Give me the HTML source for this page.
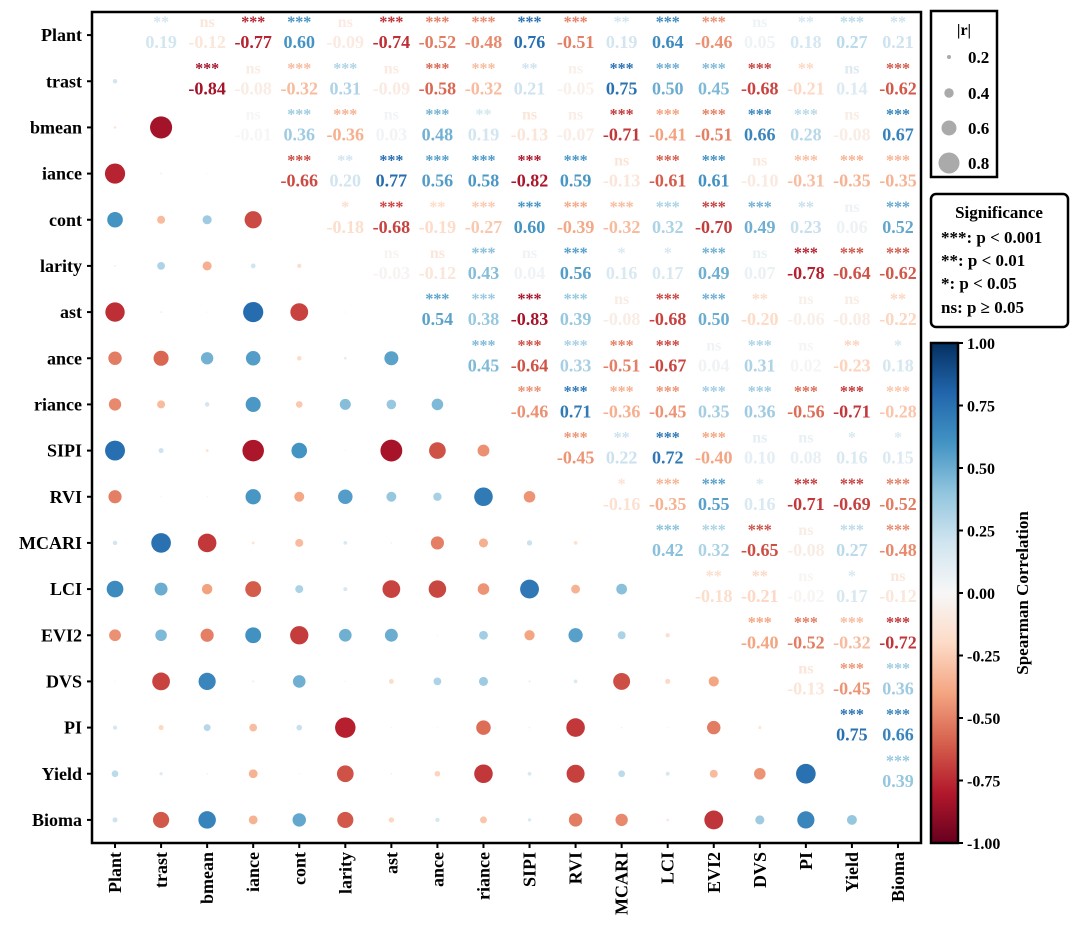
<!DOCTYPE html>
<html><head><meta charset="utf-8"><style>
body{margin:0;background:#fff;}
svg text{font-family:"Liberation Serif",serif;font-weight:bold;}
</style></head><body>
<svg id="chart" width="1080" height="934" xmlns="http://www.w3.org/2000/svg">
<defs><linearGradient id="cbg" x1="0" y1="1" x2="0" y2="0">
<stop offset="0" stop-color="#67001f"/><stop offset="0.1" stop-color="#b2182b"/><stop offset="0.2" stop-color="#d6604d"/><stop offset="0.3" stop-color="#f4a582"/><stop offset="0.4" stop-color="#fddbc7"/><stop offset="0.5" stop-color="#f7f7f7"/><stop offset="0.6" stop-color="#d1e5f0"/><stop offset="0.7" stop-color="#92c5de"/><stop offset="0.8" stop-color="#4393c3"/><stop offset="0.9" stop-color="#2166ac"/><stop offset="1" stop-color="#053061"/></linearGradient></defs>
<g id="cells"></g>
<rect x="92" y="12" width="829" height="831" fill="none" stroke="#000" stroke-width="2.5"/>
<g id="axes"></g>
<g>
<rect x="931" y="11" width="66" height="166" fill="#fff" stroke="#000" stroke-width="2.5"/>
<text x="964" y="35" font-size="16" text-anchor="middle">|r|</text>
<circle cx="949" cy="57" r="2" fill="#aaa"/><text x="968" y="63" font-size="17">0.2</text>
<circle cx="949" cy="93" r="4.7" fill="#aaa"/><text x="968" y="99" font-size="17">0.4</text>
<circle cx="949" cy="128" r="7.5" fill="#aaa"/><text x="968" y="134" font-size="17">0.6</text>
<circle cx="949" cy="163" r="10.5" fill="#aaa"/><text x="968" y="169" font-size="17">0.8</text>
</g>
<g>
<rect x="931" y="194" width="137" height="133" rx="5" fill="#fff" stroke="#000" stroke-width="2.5"/>
<text x="999" y="218" font-size="17" text-anchor="middle">Significance</text>
<text x="941" y="243" font-size="17">***: p &lt; 0.001</text>
<text x="941" y="266" font-size="17">**: p &lt; 0.01</text>
<text x="941" y="289" font-size="17">*: p &lt; 0.05</text>
<text x="941" y="313" font-size="17">ns: p ≥ 0.05</text>
</g>
<g>
<rect x="931" y="343" width="27" height="500" fill="url(#cbg)" stroke="#000" stroke-width="2.5"/>
<g id="cbticks"></g>
<text transform="translate(1028,593) rotate(-90)" font-size="17" text-anchor="middle">Spearman Correlation</text>
</g>
</svg>
<script>
const labels=["Plant","trast","bmean","iance","cont","larity","ast","ance","riance","SIPI","RVI","MCARI","LCI","EVI2","DVS","PI","Yield","Bioma"];
const upperVals=[
[0.19,-0.12,-0.77,0.60,-0.09,-0.74,-0.52,-0.48,0.76,-0.51,0.19,0.64,-0.46,0.05,0.18,0.27,0.21],
[-0.84,-0.08,-0.32,0.31,-0.09,-0.58,-0.32,0.21,-0.05,0.75,0.50,0.45,-0.68,-0.21,0.14,-0.62],
[-0.01,0.36,-0.36,0.03,0.48,0.19,-0.13,-0.07,-0.71,-0.41,-0.51,0.66,0.28,-0.08,0.67],
[-0.66,0.20,0.77,0.56,0.58,-0.82,0.59,-0.13,-0.61,0.61,-0.10,-0.31,-0.35,-0.35],
[-0.18,-0.68,-0.19,-0.27,0.60,-0.39,-0.32,0.32,-0.70,0.49,0.23,0.06,0.52],
[-0.03,-0.12,0.43,0.04,0.56,0.16,0.17,0.49,0.07,-0.78,-0.64,-0.62],
[0.54,0.38,-0.83,0.39,-0.08,-0.68,0.50,-0.20,-0.06,-0.08,-0.22],
[0.45,-0.64,0.33,-0.51,-0.67,0.04,0.31,0.02,-0.23,0.18],
[-0.46,0.71,-0.36,-0.45,0.35,0.36,-0.56,-0.71,-0.28],
[-0.45,0.22,0.72,-0.40,0.10,0.08,0.16,0.15],
[-0.16,-0.35,0.55,0.16,-0.71,-0.69,-0.52],
[0.42,0.32,-0.65,-0.08,0.27,-0.48],
[-0.18,-0.21,-0.02,0.17,-0.12],
[-0.40,-0.52,-0.32,-0.72],
[-0.13,-0.45,0.36],
[0.75,0.66],
[0.39]];
const upperSig=[
["**","ns","***","***","ns","***","***","***","***","***","**","***","***","ns","**","***","**"],
["***","ns","***","***","ns","***","***","**","ns","***","***","***","***","**","ns","***"],
["ns","***","***","ns","***","**","ns","ns","***","***","***","***","***","ns","***"],
["***","**","***","***","***","***","***","ns","***","***","ns","***","***","***"],
["*","***","**","***","***","***","***","***","***","***","**","ns","***"],
["ns","ns","***","ns","***","*","*","***","ns","***","***","***"],
["***","***","***","***","ns","***","***","**","ns","ns","**"],
["***","***","***","***","***","ns","***","ns","**","*"],
["***","***","***","***","***","***","***","***","***"],
["***","**","***","***","ns","ns","*","*"],
["*","***","***","*","***","***","***"],
["***","***","***","ns","***","***"],
["**","**","ns","*","ns"],
["***","***","***","***"],
["ns","***","***"],
["***","***"],
["***"]];
const tickVals=[1,0.75,0.5,0.25,0,-0.25,-0.5,-0.75,-1];
const NS="http://www.w3.org/2000/svg";
const X0=92,Y0=12,CW=829/18,CH=831/18;
const cx=j=>X0+CW*(j+0.5), cy=i=>Y0+CH*(i+0.5);
const stops=[[103,0,31],[178,24,43],[214,96,77],[244,165,130],[253,219,199],[247,247,247],[209,229,240],[146,197,222],[67,147,195],[33,102,172],[5,48,97]];
function cmap(v){let t=(Math.max(-1,Math.min(1,v))+1)*5;let k=Math.min(9,Math.floor(t));let f=t-k;
const a=stops[k],b=stops[k+1];return `rgb(${a.map((c,i)=>Math.round(c+(b[i]-c)*f)).join(',')})`;}
function el(tag,attrs,parent,txt){const e=document.createElementNS(NS,tag);for(const k in attrs)e.setAttribute(k,attrs[k]);if(txt!==undefined)e.textContent=txt;parent.appendChild(e);return e;}
const cells=document.getElementById('cells');
for(let i=0;i<labels.length;i++){
  for(let j=i+1;j<labels.length;j++){
    const v=upperVals[i][j-i-1], s=upperSig[i][j-i-1], col=cmap(v);
    const st=el('text',{x:cx(j),y:cy(i)-8,'font-size':16,'text-anchor':'middle',fill:col},cells,s);
    
    
    const t=el('text',{x:cx(j),y:cy(i)+13,'font-size':18,'text-anchor':'middle',fill:col},cells,v.toFixed(2));
    
    
    const c=el('circle',{cx:cx(i),cy:cy(j),r:Math.max(0.6,13.5*Math.abs(v)-0.3),fill:col},cells);
    
    
  }
}
const axes=document.getElementById('axes');
labels.forEach((l,i)=>{
  el('line',{x1:87,x2:92,y1:cy(i),y2:cy(i),stroke:'#000','stroke-width':2},axes);
  const yl=el('text',{x:82,y:cy(i)+6,'font-size':18,'text-anchor':'end'},axes,l);
  
  
  el('line',{x1:cx(i),x2:cx(i),y1:843,y2:848,stroke:'#000','stroke-width':2},axes);
  const xl=el('text',{transform:`translate(${cx(i)+6},852) rotate(-90)`,'font-size':18,'text-anchor':'end'},axes,l);
  
  
});
const cb=document.getElementById('cbticks');
tickVals.forEach(v=>{const y=343+(1-v)/2*500;
  el('line',{x1:958,x2:963,y1:y,y2:y,stroke:'#000','stroke-width':2},cb);
  const t=el('text',{x:967,y:y+6,'font-size':16},cb,v.toFixed(2));
  
  
});
</script>
</body></html>
